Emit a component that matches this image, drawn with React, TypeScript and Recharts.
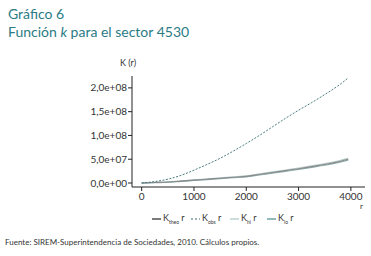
import React from "react"
import { LineChart, Line, XAxis, YAxis } from "recharts"

// radius r and K(r) values, in millions
const radii = [0, 250, 500, 750, 1000, 1250, 1500, 1750, 2000, 2250, 2500, 2750, 3000, 3250, 3500, 3750, 3950]
const kTheo = [0, 1, 2, 4, 6, 8, 10, 12, 14, 18, 22, 26, 30, 34.5, 39, 44.5, 50]
const kObs = [0, 3, 8, 16, 27, 39, 52, 67, 83, 100, 118, 136, 153, 169, 186, 204, 221]
const kHi = [0.2, 1.3, 2.4, 4.5, 6.7, 8.8, 10.9, 13, 15.1, 19.2, 23.3, 27.4, 31.5, 36.1, 40.7, 46.3, 51.9]
const kLo = [-0.2, 0.7, 1.6, 3.5, 5.3, 7.2, 9.1, 11, 12.9, 16.8, 20.7, 24.6, 28.5, 32.9, 37.3, 42.7, 48.1]

const xTicks = [0, 1000, 2000, 3000, 4000]
const yTicks = [0, 5e7, 1e8, 1.5e8, 2e8]

const data = radii.map((r, i) => ({
  r,
  theo: kTheo[i] * 1e6,
  obs: kObs[i] * 1e6,
  hi: kHi[i] * 1e6,
  lo: kLo[i] * 1e6,
}))

const FONT = "Lato, 'Open Sans', sans-serif"
const TEAL = "#2b7b85"
const TEXT = "#333"

const fmtSci = (v: number) => {
  if (v === 0) return "0,0e+00"
  const e = Math.floor(Math.log10(Math.abs(v)))
  const m = v / 10 ** e
  return `${m.toFixed(1).replace(".", ",")}e+${String(e).padStart(2, "0")}`
}

const legendItems = [
  { sub: "theo", color: "#222", dash: undefined as string | undefined },
  { sub: "obs", color: "#3d6b70", dash: "2 2" },
  { sub: "hi", color: "#a9c6c6", dash: undefined },
  { sub: "lo", color: "#4e8a8c", dash: undefined },
]
const legendX = [152, 191, 230, 267]

export default function App() {
  return (
    <div style={{ position: "absolute", left: 0, top: 0, width: 371, height: 256, background: "#fff", fontFamily: FONT }}>
      <div style={{ position: "absolute", left: 8, top: 5, color: TEAL, fontSize: 14, lineHeight: "18px" }}>
        Gráfico 6
        <br />
        Función <i>k</i> para el sector 4530
      </div>

      <LineChart width={371} height={256} data={data} margin={{ top: 76, right: 6, bottom: 49, left: 0 }}>
        <XAxis
          dataKey="r"
          type="number"
          domain={[-185, 4270]}
          ticks={xTicks}
          height={20}
          tickSize={4}
          axisLine={{ stroke: "#222" }}
          tickLine={{ stroke: "#222" }}
          tick={{ fill: TEXT, fontSize: 10, fontFamily: FONT }}
          allowDataOverflow
        />
        <YAxis
          type="number"
          domain={[-8.4e6, 2.25e8]}
          ticks={yTicks}
          width={132}
          tickSize={4}
          tickMargin={1}
          tickFormatter={fmtSci}
          axisLine={{ stroke: "#222" }}
          tickLine={{ stroke: "#222" }}
          tick={{ fill: TEXT, fontSize: 10, fontFamily: FONT }}
          allowDataOverflow
        />
        <Line type="monotone" dataKey="hi" stroke="#b8cccc" strokeWidth={1.2} dot={false} isAnimationActive={false} />
        <Line type="monotone" dataKey="lo" stroke="#8fadad" strokeWidth={1.2} dot={false} isAnimationActive={false} />
        <Line type="monotone" dataKey="theo" stroke="#8a8a8a" strokeWidth={1.1} dot={false} isAnimationActive={false} />
        <Line
          type="monotone"
          dataKey="obs"
          stroke="#4a7a7e"
          strokeWidth={1}
          strokeDasharray="2 1.5"
          dot={false}
          isAnimationActive={false}
        />
      </LineChart>

      <div style={{ position: "absolute", left: 120, top: 57, fontSize: 9, color: TEXT }}>K (r)</div>
      <div style={{ position: "absolute", left: 360, top: 202, fontSize: 8, color: TEXT, lineHeight: "8px" }}>r</div>

      {legendItems.map((it, i) => (
        <div
          key={it.sub}
          style={{ position: "absolute", left: legendX[i], top: 212, fontSize: 9, color: TEXT, display: "flex", alignItems: "center", whiteSpace: "nowrap" }}
        >
          <svg width={10} height={10} style={{ marginRight: 1 }}>
            <line x1={0} y1={6} x2={9} y2={6} stroke={it.color} strokeWidth={1.2} strokeDasharray={it.dash} />
          </svg>
          <span>
            K<sub style={{ fontSize: 5 }}>{it.sub}</sub> r
          </span>
        </div>
      ))}

      <div style={{ position: "absolute", left: 5, top: 237, fontSize: 8, color: TEXT }}>
        Fuente: SIREM-Superintendencia de Sociedades, 2010. Cálculos propios.
      </div>
    </div>
  )
}
